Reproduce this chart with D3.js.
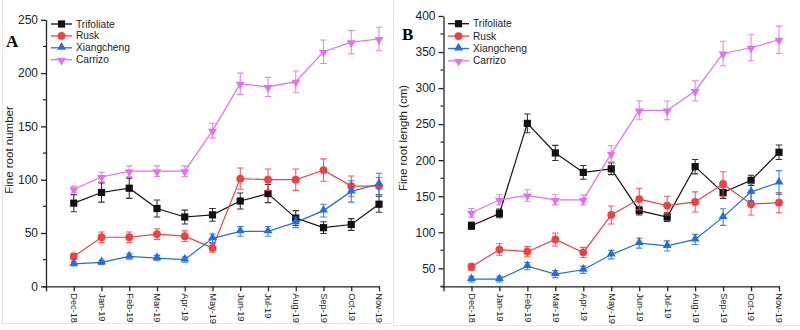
<!DOCTYPE html>
<html>
<head>
  <meta charset="UTF-8">
  <title>Fine root number and length</title>
  <script src="https://d3js.org/d3.v7.min.js"></script>
  <style>
    body { margin: 0; background: #fff; font-family: "Liberation Sans", Arial, sans-serif; }
    .axis path, .axis line { stroke: #222; stroke-width: 1.3; }
    .axis text { fill: #222; }
  </style>
</head>
<body>
  <svg id="chart" width="800" height="330"></svg>
  <script>
    const months = ["Dec-18", "Jan-19", "Feb-19", "Mar-19", "Apr-19", "May-19", "Jun-19",
                    "Jul-19", "Aug-19", "Sep-19", "Oct-19", "Nov-19"];
    const seriesNames = ["Trifoliate", "Rusk", "Xiangcheng", "Carrizo"];

    // panel A: fine root number (mean, error)
    const numTrifoliate = [78, 88, 92, 73, 65, 67, 80, 87, 64, 55, 58, 77];
    const numTrifoliateErr = [8, 9, 9.5, 8, 6.5, 6, 7.5, 8.5, 7, 5.5, 5.5, 7.5];
    const numRusk = [28, 46, 46, 49, 47, 36, 101, 100, 100, 109, 94, 94];
    const numRuskErr = [3, 5, 5, 5, 5, 4, 10, 10, 10, 10.5, 9.5, 8];
    const numXiangcheng = [21, 22.5, 28, 26.5, 25, 45, 51.5, 51.5, 60, 71, 89, 96];
    const numXiangchengErr = [2, 2, 2.5, 2.5, 2.5, 4, 4.5, 4.5, 5, 6, 10, 10];
    const numCarrizo = [91, 102.5, 108, 108, 108, 146, 190, 187, 192, 220, 229, 232];
    const numCarrizoErr = [3, 4.5, 5, 5, 5, 7, 10, 9, 10, 11, 11, 11];

    // panel B: fine root length in cm (mean, error)
    const lenTrifoliate = [109, 126, 251, 210, 183, 188, 130, 121, 191, 155, 172, 211];
    const lenTrifoliateErr = [5, 6, 13, 10.5, 9.5, 8, 6, 6, 10, 8, 7, 10];
    const lenRusk = [52, 76, 73, 90, 72, 124, 146, 137, 142, 167, 139, 141];
    const lenRuskErr = [5, 8, 7, 9, 7, 12.5, 15, 13, 14, 17, 15, 14];
    const lenXiangcheng = [35, 35, 53, 42, 48, 69, 85, 81, 90, 121, 156, 169];
    const lenXiangchengErr = [4, 4, 5, 5, 5, 6, 7, 7, 7, 11.5, 12, 16.5];
    const lenCarrizo = [127, 145, 151, 145, 145, 209, 269, 269, 296, 348, 356, 367];
    const lenCarrizoErr = [6, 7, 8, 7, 7, 11, 13, 13, 14, 17, 18, 19];

    const yTicksA = [0, 50, 100, 150, 200, 250];
    const yTicksB = [50, 100, 150, 200, 250, 300, 350, 400];

    const colors = ["#111111", "#f0403f", "#1f6fe0", "#e46ff0"];
    const shapes = ["square", "circle", "triangle", "down"];

    const svg = d3.select("#chart");

    // faint frames around the two figure panels
    svg.append("path").attr("d", "M2.5,0V323.5H392").attr("fill", "none").attr("stroke", "#e6e6e6");
    svg.append("path").attr("d", "M393.5,0V325.5H800").attr("fill", "none").attr("stroke", "#e6e6e6");

    function marker(g, shape, x, y, color) {
      if (shape === "square") {
        g.append("rect").attr("x", x - 3.6).attr("y", y - 3.6).attr("width", 7.2).attr("height", 7.2).attr("fill", color);
      } else if (shape === "circle") {
        g.append("circle").attr("cx", x).attr("cy", y).attr("r", 3.9).attr("fill", color);
      } else {
        const sym = d3.symbol().type(d3.symbolTriangle).size(34);
        g.append("path").attr("d", sym())
          .attr("transform", `translate(${x},${y + (shape === "down" ? 0.6 : -0.6)}) rotate(${shape === "down" ? 180 : 0})`)
          .attr("fill", color);
      }
    }

    function drawPanel(cfg) {
      const x = d3.scaleLinear().domain([0, 12]).range(cfg.xRange);
      const y = d3.scaleLinear().domain(cfg.yDomain).range(cfg.yRange);
      const g = svg.append("g");

      // minor + major y ticks
      const minor = d3.range(cfg.yDomain[0], cfg.yDomain[1] + 0.1, cfg.minorStep)
        .filter(v => !cfg.yTicks.includes(v));
      g.selectAll(".minor").data(minor).enter().append("line")
        .attr("x1", x(0) - 3).attr("x2", x(0))
        .attr("y1", d => y(d)).attr("y2", d => y(d))
        .attr("stroke", "#222").attr("stroke-width", 1.2);

      g.append("g").attr("class", "axis")
        .attr("transform", `translate(${x(0)},0)`)
        .call(d3.axisLeft(y).tickValues(cfg.yTicks).tickSize(5).tickPadding(3).tickSizeOuter(0))
        .selectAll("text").style("font-size", "12px");

      const xAxis = g.append("g").attr("class", "axis")
        .attr("transform", `translate(0,${cfg.yRange[0]})`)
        .call(d3.axisBottom(x).tickValues(d3.range(0, 13)).tickSize(5).tickSizeOuter(0)
          .tickFormat(i => i === 0 ? "" : months[i - 1]));
      xAxis.select(".domain").attr("d", `M${x(0) - 3},0.5H${x(12)}`);
      xAxis.selectAll("text")
        .style("font-size", "9.2px")
        .style("text-anchor", "start")
        .attr("transform", "rotate(90)")
        .attr("x", 7).attr("y", 0).attr("dy", "0.33em");

      // y title and panel letter
      g.append("text")
        .attr("transform", `translate(${cfg.titleX},${cfg.titleY}) rotate(-90)`)
        .attr("text-anchor", "middle")
        .style("font-size", "11.5px").attr("fill", "#222")
        .text(cfg.title);
      g.append("text")
        .attr("x", cfg.letterX).attr("y", cfg.letterY)
        .style("font-family", "'Liberation Serif', 'Times New Roman', serif")
        .style("font-weight", "bold").style("font-size", "17px")
        .text(cfg.letter);

      // series: lines, error bars, markers
      cfg.series.forEach((s, k) => {
        const col = colors[k];
        const sg = g.append("g");
        const line = d3.line().x((d, i) => x(i + 1)).y(d => y(d));
        sg.append("path").datum(s.values).attr("d", line)
          .attr("fill", "none").attr("stroke", col).attr("stroke-width", 1.2);
        s.values.forEach((v, i) => {
          const cx = x(i + 1), e = s.errors[i];
          sg.append("path")
            .attr("d", `M${cx},${y(v - e)}V${y(v + e)}M${cx - 3.2},${y(v - e)}H${cx + 3.2}M${cx - 3.2},${y(v + e)}H${cx + 3.2}`)
            .attr("stroke", col).attr("stroke-width", 1.1).attr("fill", "none").attr("opacity", 0.85);
          marker(sg, shapes[k], cx, y(v), col);
        });
      });

      // legend
      seriesNames.forEach((name, k) => {
        const ly = cfg.legendY + k * cfg.legendStep;
        const lg = g.append("g");
        lg.append("line").attr("x1", cfg.legendX).attr("x2", cfg.legendX + 21)
          .attr("y1", ly).attr("y2", ly).attr("stroke", colors[k]).attr("stroke-width", 1.3);
        marker(lg, shapes[k], cfg.legendX + 10.5, ly, colors[k]);
        lg.append("text").attr("x", cfg.legendX + 25).attr("y", ly).attr("dy", "0.35em")
          .style("font-size", "10.2px").attr("fill", "#222").text(name);
      });
    }

    drawPanel({
      xRange: [46, 379], yDomain: [0, 250], yRange: [286.3, 19.8], yTicks: yTicksA, minorStep: 25,
      title: "Fine root number", titleX: 13, titleY: 150, letter: "A", letterX: 6, letterY: 47,
      legendX: 51, legendY: 24, legendStep: 11.9,
      series: [
        { values: numTrifoliate, errors: numTrifoliateErr },
        { values: numRusk, errors: numRuskErr },
        { values: numXiangcheng, errors: numXiangchengErr },
        { values: numCarrizo, errors: numCarrizoErr }
      ]
    });

    drawPanel({
      xRange: [443.5, 779], yDomain: [25, 400], yRange: [286.3, 16], yTicks: yTicksB, minorStep: 25,
      title: "Fine root length (cm)", titleX: 407, titleY: 138, letter: "B", letterX: 402, letterY: 40,
      legendX: 448, legendY: 23.7, legendStep: 12.4,
      series: [
        { values: lenTrifoliate, errors: lenTrifoliateErr },
        { values: lenRusk, errors: lenRuskErr },
        { values: lenXiangcheng, errors: lenXiangchengErr },
        { values: lenCarrizo, errors: lenCarrizoErr }
      ]
    });
  </script>
</body>
</html>
